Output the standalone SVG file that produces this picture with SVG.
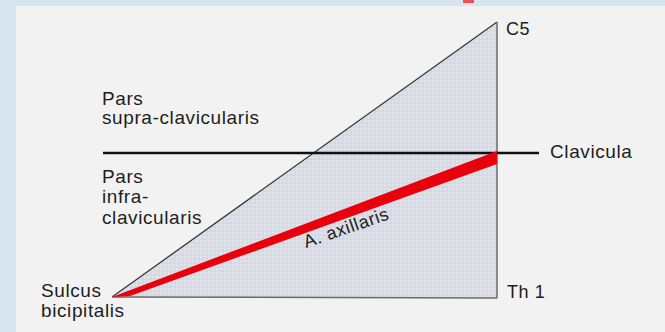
<svg xmlns="http://www.w3.org/2000/svg" width="665" height="332" viewBox="0 0 665 332">
  <defs>
    <pattern id="stipple" width="4" height="4" patternUnits="userSpaceOnUse">
      <rect width="4" height="4" fill="#d9dce4"/>
      <circle cx="1" cy="1" r="0.7" fill="#eef0f4"/>
      <circle cx="3" cy="3" r="0.6" fill="#c6cad4"/>
    </pattern>
    <style>
      .lbl { font-family: "Liberation Sans", Arial, Helvetica, sans-serif; font-size: 19px; fill: #1e1e1e; letter-spacing: 0.6px; }
    </style>
  </defs>
  <rect x="0" y="0" width="665" height="332" fill="#d6e6f1"/>
  <rect x="16" y="6" width="649" height="326" fill="#f2f2f2"/>
  <rect x="463" y="0" width="11" height="3" fill="#f05050"/>

  <g id="triangle">
    <polygon points="112,297 497,22 497,298" fill="url(#stipple)"/>
    <line x1="112" y1="297" x2="497" y2="22" stroke="#3a3a3a" stroke-width="1.3"/>
    <line x1="497" y1="22" x2="497" y2="298" stroke="#6a6a6a" stroke-width="1.5"/>
    <line x1="112" y1="297" x2="497" y2="298" stroke="#6a6a6a" stroke-width="1.5"/>
  </g>

  <g id="connectors">
    <line id="clavicula-line" x1="103" y1="153" x2="539" y2="153" stroke="#111" stroke-width="2.5"/>
  </g>

  <g id="a-axillaris">
    <polygon points="112,297 497,151 497,164 130,296" fill="#e8000c"/>
    <text class="lbl" x="306" y="248" transform="rotate(-19 306 248)" style="font-size:18px">A. axillaris</text>
  </g>

  <g id="c5"><text class="lbl" x="506" y="35" style="font-size:18px">C5</text></g>
  <g id="th1"><text class="lbl" x="507" y="298" style="font-size:18px">Th 1</text></g>
  <g id="clavicula"><text class="lbl" x="550" y="158">Clavicula</text></g>
  <g id="pars-supra">
    <text class="lbl" x="102" y="105">Pars</text>
    <text class="lbl" x="102" y="124">supra-clavicularis</text>
  </g>
  <g id="pars-infra">
    <text class="lbl" x="102" y="183">Pars</text>
    <text class="lbl" x="102" y="203">infra-</text>
    <text class="lbl" x="102" y="224">clavicularis</text>
  </g>
  <g id="sulcus">
    <text class="lbl" x="41" y="297">Sulcus</text>
    <text class="lbl" x="41" y="317">bicipitalis</text>
  </g>
</svg>
